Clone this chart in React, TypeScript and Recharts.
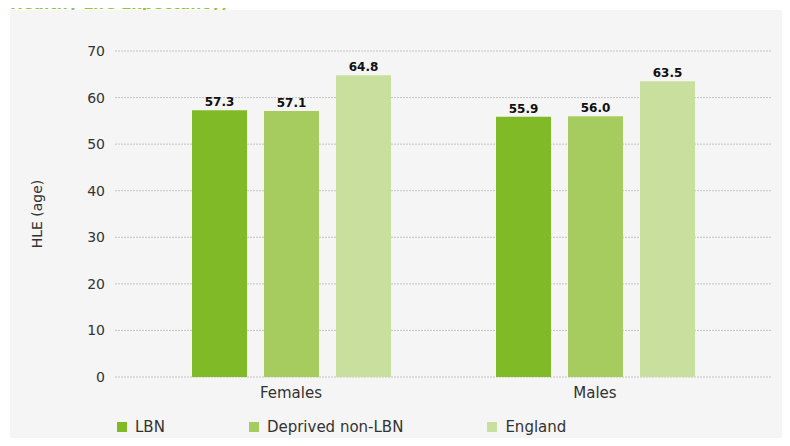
import { BarChart, Bar, XAxis, YAxis, CartesianGrid, Legend, LabelList, Label } from 'recharts';

const categories = ['Females', 'Males'];
const lbn = [57.3, 55.9];
const deprivedNonLbn = [57.1, 56.0];
const england = [64.8, 63.5];
const yTicks = [0, 10, 20, 30, 40, 50, 60, 70];

const seriesNames = ['LBN', 'Deprived non-LBN', 'England'];
const seriesColors = ['#80ba27', '#a6cc5f', '#c8df9e'];

const rows = categories.map((c, i) => ({
  name: c,
  LBN: lbn[i],
  'Deprived non-LBN': deprivedNonLbn[i],
  England: england[i],
}));

const FONT = '"DejaVu Sans", Verdana, sans-serif';

function LegendBox() {
  return (
    <div style={{ display: 'flex', alignItems: 'center', paddingLeft: 107, paddingTop: 11, fontFamily: FONT, fontSize: 15, color: '#333' }}>
      {seriesNames.map((n, i) => (
        <div key={n} style={{ display: 'flex', alignItems: 'center', marginRight: 84 }}>
          <span style={{ width: 10, height: 10, background: seriesColors[i], display: 'inline-block', marginRight: 8 }} />
          <span>{n}</span>
        </div>
      ))}
    </div>
  );
}

export default function App() {
  return (
    <div style={{ position: 'relative', width: 790, height: 446, background: '#fff', overflow: 'hidden', margin: -8 }}>
      <div style={{ position: 'absolute', left: 10, top: -3, fontFamily: FONT, fontWeight: 700, fontSize: 15.5, lineHeight: '15px', color: '#8cc63f', whiteSpace: 'nowrap' }}>
        Healthy Life Expectancy)
      </div>
      <div style={{ position: 'absolute', left: 10, top: 10, width: 780, height: 436, background: '#f5f5f5' }}>
        <BarChart
          width={780}
          height={436}
          data={rows}
          margin={{ top: 41, right: 19, left: 0, bottom: 0 }}
          barSize={55}
          barGap={17}
        >
          <CartesianGrid vertical={false} stroke="#c4c4c4" strokeDasharray="2 1" />
          <XAxis
            dataKey="name"
            axisLine={false}
            tickLine={false}
            height={30}
            padding={{ left: 24, right: 24 }}
            tick={{ fill: '#333', fontSize: 15, fontFamily: FONT }}
            tickMargin={4}
          />
          <YAxis
            width={105}
            domain={[0, 70]}
            ticks={yTicks}
            axisLine={false}
            tickLine={false}
            tickMargin={4}
            tick={{ fill: '#333', fontSize: 14, fontFamily: FONT }}
          >
            <Label
              content={({ viewBox }: any) => {
                const x = viewBox.x + 27;
                const y = viewBox.y + viewBox.height / 2;
                return (
                  <text x={x} y={y} transform={`rotate(-90, ${x}, ${y})`} textAnchor="middle" dominantBaseline="central" fill="#333" fontSize={14} fontFamily={FONT}>
                    HLE (age)
                  </text>
                );
              }}
            />
          </YAxis>
          <Legend verticalAlign="bottom" wrapperStyle={{ left: 0, width: 780, height: 39 }} content={() => <LegendBox />} />
          {seriesNames.map((n, i) => (
            <Bar key={n} dataKey={n} fill={seriesColors[i]} isAnimationActive={false}>
              <LabelList
                dataKey={n}
                position="top"
                offset={4}
                formatter={(v: any) => Number(v).toFixed(1)}
                style={{ fill: '#111', fontSize: 12, fontWeight: 700, fontFamily: FONT }}
              />
            </Bar>
          ))}
        </BarChart>
      </div>
    </div>
  );
}
